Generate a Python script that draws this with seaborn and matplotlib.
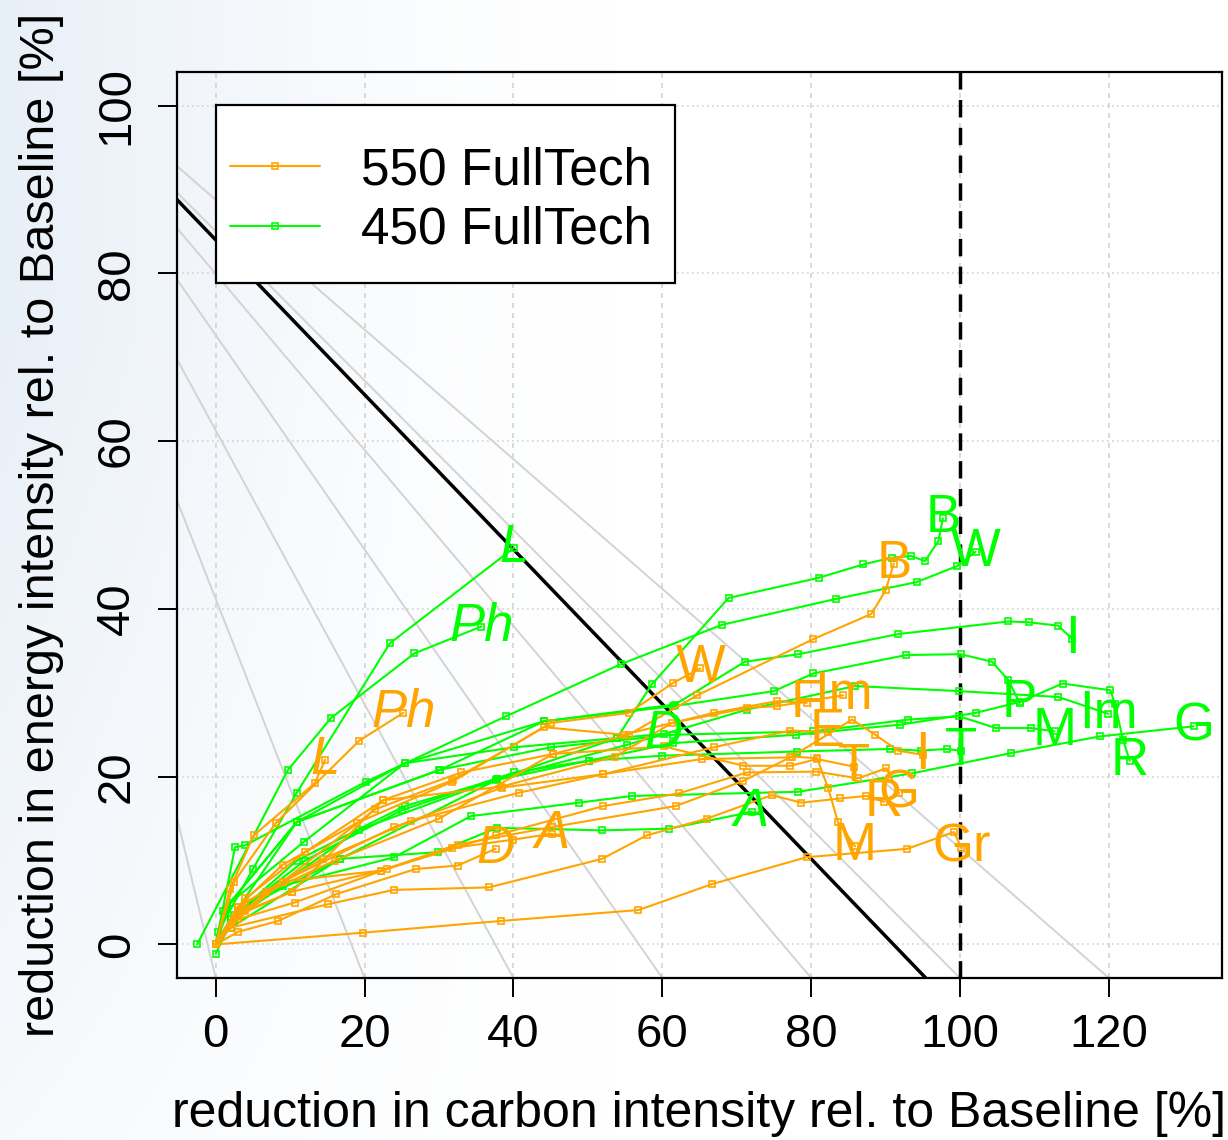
import numpy as np
import matplotlib
matplotlib.use("Agg")
import matplotlib.pyplot as plt
import seaborn as sns
from matplotlib.lines import Line2D
from matplotlib.patches import Rectangle

sns.set_theme(style="white")
plt.rcParams['font.family'] = ['Liberation Sans', 'DejaVu Sans']
plt.rcParams['text.color'] = 'black'

ORANGE = "#FFA500"
GREEN = "#00FF00"

# ---------------- data: 450 FullTech (green) ----------------
g_L_x = [0, 0.3, 5.0, 10.9, 23.4, 40.1]
g_L_y = [0, 1.5, 9.0, 18.1, 35.9, 47.3]
g_Ph_x = [-2.5, 9.7, 15.5, 26.7, 35.7]
g_Ph_y = [0, 20.8, 27.0, 34.7, 37.9]
g_B_x = [0, 1.0, 10.9, 25.4, 40.1, 53.9, 58.6, 68.9, 81.0, 87.0, 90.8, 93.4, 95.3, 97.1, 97.7]
g_B_y = [0, 4.0, 14.6, 21.6, 23.5, 24.6, 31.0, 41.3, 43.7, 45.3, 46.1, 46.3, 45.7, 48.1, 50.8]
g_W_x = [0, 2.6, 3.9, 20.2, 39.0, 54.4, 68.0, 83.4, 94.2, 99.6, 102.1]
g_W_y = [0, 11.6, 11.8, 19.4, 27.2, 33.4, 38.1, 41.2, 43.2, 45.1, 46.8]
g_I_x = [0, 2.0, 11.8, 25.4, 44.1, 61.7, 71.1, 78.3, 91.7, 106.5, 109.3, 113.2, 115.1]
g_I_y = [0, 5.0, 12.2, 21.6, 26.6, 28.6, 33.7, 34.6, 37.0, 38.5, 38.4, 38.0, 36.4]
g_P_x = [0, 1.5, 10.9, 30.1, 44.1, 61.5, 75.0, 80.3, 92.8, 100.1, 104.3, 106.5, 108.0]
g_P_y = [0, 4.5, 14.6, 20.8, 26.6, 28.4, 30.2, 32.3, 34.5, 34.6, 33.7, 31.5, 28.8]
g_Im_x = [0, 2.0, 19.3, 37.8, 55.3, 71.4, 85.9, 99.9, 113.2, 119.9]
g_Im_y = [0, 3.0, 13.7, 19.7, 23.8, 28.0, 30.8, 30.2, 29.5, 27.5]
g_M_x = [0, 2.0, 10.9, 30.0, 45.0, 61.5, 80.3, 93.0, 99.9, 104.8, 109.5, 112.7]
g_M_y = [0, 3.0, 14.6, 20.8, 23.5, 25.0, 25.4, 26.8, 27.2, 25.8, 25.8, 25.4]
g_R_x = [0, 3.0, 16.7, 37.7, 50.1, 61.5, 78.0, 92.0, 102.1, 108.0, 113.8, 120.2, 120.8, 121.9, 122.8]
g_R_y = [0, 4.0, 10.2, 19.6, 21.9, 24.0, 25.0, 26.2, 27.6, 28.9, 31.1, 30.3, 28.7, 24.4, 21.9]
g_G_x = [0, 2.5, 9.0, 24.0, 34.3, 48.8, 55.9, 78.3, 93.6, 106.8, 118.8, 131.4]
g_G_y = [0, 3.0, 7.0, 10.4, 15.3, 16.9, 17.7, 18.2, 20.4, 22.8, 24.8, 26.0]
g_T_x = [0, 2.5, 12.0, 25.0, 40.1, 50.1, 60.0, 78.1, 90.6, 94.7, 98.2, 100.1]
g_T_y = [-1.1, 3.5, 10.0, 16.0, 20.5, 21.9, 22.5, 23.0, 23.3, 23.1, 23.3, 23.1]
g_D_x = [0, 2.0, 10.9, 25.4, 37.8, 53.9, 60.2]
g_D_y = [0, 3.0, 10.0, 16.5, 19.7, 24.6, 25.1]
g_A_x = [0, 2.0, 16.7, 29.8, 37.8, 51.9, 60.9, 72.0]
g_A_y = [0, 2.0, 10.2, 11.0, 13.9, 13.6, 13.8, 15.8]

# ---------------- data: 550 FullTech (orange) ----------------
o_L_x = [0, 1.9, 5.1, 13.3, 14.7]
o_L_y = [0, 6.6, 13.0, 19.2, 22.0]
o_Ph_x = [0, 2.5, 8.1, 19.3, 25.2]
o_Ph_y = [0, 7.5, 14.5, 24.3, 27.6]
o_W_x = [0, 3.0, 9.0, 19.0, 31.8, 45.0, 55.5, 61.5, 65.1]
o_W_y = [0, 4.5, 9.5, 14.5, 19.4, 26.4, 27.6, 31.2, 32.9]
o_B_x = [0, 4.0, 12.0, 22.5, 33.0, 45.3, 55.5, 64.7, 80.3, 88.1, 90.0, 91.1]
o_B_y = [0, 5.5, 11.0, 17.2, 20.5, 22.7, 25.0, 29.7, 36.4, 39.4, 42.2, 45.4]
o_F_x = [0, 3.0, 9.0, 21.4, 31.9, 44.1, 54.8, 66.9, 75.4, 79.4]
o_F_y = [0, 4.5, 7.5, 16.1, 19.6, 25.9, 25.0, 27.6, 29.0, 28.8]
o_Im_x = [0, 4.0, 10.3, 22.5, 38.3, 53.7, 61.3, 71.4, 75.4, 84.3]
o_Im_y = [0, 4.0, 6.3, 17.2, 18.8, 22.4, 26.4, 28.2, 28.4, 29.7]
o_E_x = [0, 3.0, 9.0, 24.0, 38.5, 52.1, 66.9, 77.2, 82.2]
o_E_y = [0, 3.5, 7.5, 14.0, 18.7, 20.3, 23.5, 25.5, 25.3]
o_T_x = [0, 2.5, 6.8, 16.0, 30.0, 45.3, 60.2, 70.9, 77.2, 80.8, 85.7]
o_T_y = [0, 3.0, 6.2, 10.0, 15.0, 22.7, 23.6, 21.3, 21.3, 22.1, 21.2]
o_I_x = [0, 4.0, 14.4, 26.2, 40.8, 52.1, 65.3, 77.2, 85.5, 88.6, 91.7, 95.0]
o_I_y = [0, 5.0, 10.2, 14.7, 18.1, 20.3, 22.1, 22.3, 26.8, 25.0, 23.1, 22.6]
o_G_x = [0, 3.0, 10.6, 23.0, 37.6, 52.1, 62.2, 71.4, 80.7, 86.3, 90.1, 91.8]
o_G_y = [0, 3.0, 5.0, 9.0, 13.0, 16.5, 18.0, 20.5, 20.6, 19.8, 21.0, 18.0]
o_R_x = [0, 2.0, 15.1, 23.9, 36.7, 51.9, 57.9, 66.0, 74.7, 78.7, 83.9, 87.4, 89.8]
o_R_y = [0, 2.0, 4.8, 6.5, 6.8, 10.2, 13.0, 15.0, 17.8, 16.9, 17.4, 17.7, 17.0]
o_M_x = [0, 3.0, 9.0, 22.2, 32.5, 45.2, 61.8, 70.9, 77.4, 80.8, 82.3, 83.6, 85.9]
o_M_y = [0, 3.0, 7.5, 8.8, 11.9, 14.0, 16.5, 19.5, 22.4, 22.2, 18.6, 14.6, 11.7]
o_Gr_x = [0, 19.8, 38.3, 56.8, 66.7, 79.4, 92.9, 99.2, 100.2]
o_Gr_y = [0, 1.4, 2.8, 4.1, 7.2, 10.4, 11.4, 13.4, 11.5]
o_D_x = [0, 3.0, 8.4, 16.2, 26.9, 32.5, 37.6]
o_D_y = [0, 1.5, 2.8, 6.0, 9.0, 9.4, 11.4]
o_A_x = [0, 3.0, 10.3, 22.2, 31.8, 40.0, 45.2]
o_A_y = [0, 3.5, 6.3, 8.8, 11.5, 12.5, 13.2]

green_series = [("L", g_L_x, g_L_y), ("Ph", g_Ph_x, g_Ph_y), ("B", g_B_x, g_B_y),
                ("W", g_W_x, g_W_y), ("I", g_I_x, g_I_y), ("P", g_P_x, g_P_y),
                ("Im", g_Im_x, g_Im_y), ("M", g_M_x, g_M_y), ("R", g_R_x, g_R_y),
                ("G", g_G_x, g_G_y), ("T", g_T_x, g_T_y), ("D", g_D_x, g_D_y),
                ("A", g_A_x, g_A_y)]
orange_series = [("L", o_L_x, o_L_y), ("Ph", o_Ph_x, o_Ph_y), ("W", o_W_x, o_W_y),
                 ("B", o_B_x, o_B_y), ("F", o_F_x, o_F_y), ("Im", o_Im_x, o_Im_y),
                 ("E", o_E_x, o_E_y), ("T", o_T_x, o_T_y), ("I", o_I_x, o_I_y),
                 ("G", o_G_x, o_G_y), ("R", o_R_x, o_R_y), ("M", o_M_x, o_M_y),
                 ("Gr", o_Gr_x, o_Gr_y), ("D", o_D_x, o_D_y), ("A", o_A_x, o_A_y)]
italic_models = ["L", "Ph", "D", "A"]
legend_labels = ["550 FullTech", "450 FullTech"]

# reference lines: fan of iso-lines through a common point
fan_origin_x = -32.0
fan_origin_y = 113.5
fan_end_x = [0, 20, 40, 60, 80, 100, 120]
fan_end_y = -4.0
target_end_x = 95.4
x_ticks = [0, 20, 40, 60, 80, 100, 120]
y_ticks = [0, 20, 40, 60, 80, 100]

# ---------------- figure ----------------
W, H = 1228, 1140
fig = plt.figure(figsize=(W / 100, H / 100), dpi=100)

# faint background watermark (light blue gradient on the left)
bg = fig.add_axes([0, 0, 1, 1], zorder=-10)
xx = np.linspace(0, 1, 400)[None, :]
yy = np.linspace(0, 1, 400)[:, None]
wgt = np.clip(1 - xx / 0.5, 0, 1) ** 1.5 * np.clip(1.25 - yy * 0.9, 0, 1)
wgt = np.clip(wgt, 0, 1) * 0.8
blue = np.array([226, 235, 245]) / 255.0
img = (1 - wgt[..., None]) * 1.0 + wgt[..., None] * blue[None, None, :]
bg.imshow(img, aspect="auto", extent=[0, 1, 0, 1], origin="upper")
bg.axis("off")

ax = fig.add_axes([177 / W, 1 - 978 / H, (1222 - 177) / W, (978 - 72) / H])
ax.patch.set_alpha(0)
ax.set_xlim(-5.2, 135.2)
ax.set_ylim(-4, 104)

# grid
for xv in x_ticks:
    ax.axvline(xv, color="#D3D3D3", lw=1.2, ls=(0, (3, 3)), zorder=0.5)
for yv in y_ticks:
    ax.axhline(yv, color="#D3D3D3", lw=1.2, ls=(0, (1, 2)), zorder=0.5)

# gray fan
for xe in fan_end_x:
    ax.plot([fan_origin_x, xe], [fan_origin_y, fan_end_y], color="#D3D3D3", lw=1.4, zorder=1)
ax.plot([fan_origin_x, target_end_x], [fan_origin_y, fan_end_y], color="black", lw=2.5, zorder=2)
ax.axvline(100, color="black", lw=2.5, ls=(0, (5, 3)), zorder=2)

def draw(series, color):
    for name, xs, ys in series:
        sns.lineplot(x=xs, y=ys, ax=ax, sort=False, estimator=None, color=color,
                     lw=1.5, marker="s", markersize=4.6, markerfacecolor="none",
                     markeredgecolor=color, markeredgewidth=1.2, legend=False, zorder=3)
        ax.text(xs[-1], ys[-1], name, color=color, fontsize=38, ha="center", va="center",
                style="italic" if name in italic_models else "normal", zorder=4)

draw(green_series, GREEN)
draw(orange_series, ORANGE)

ax.set_xticks(x_ticks)
ax.set_yticks(y_ticks)
ax.set_xticklabels([str(v) for v in x_ticks])
ax.set_yticklabels([str(v) for v in y_ticks], rotation=90, va="center")
ax.tick_params(axis="both", direction="out", length=13.5, width=1.4, labelsize=34,
               colors="black", bottom=True, left=True, top=False, right=False)
ax.tick_params(axis="x", pad=12)
ax.tick_params(axis="y", pad=14)
for sp in ax.spines.values():
    sp.set_color("black")
    sp.set_linewidth(1.6)
    sp.set_visible(True)

ax.set_xlabel("reduction in carbon intensity rel. to Baseline [%]", fontsize=36, labelpad=24, color="black")
ax.set_ylabel("reduction in energy intensity rel. to Baseline [%]", fontsize=35, labelpad=22, color="black")

# legend: white box with black border, entries inside
box = Rectangle((39 / 1045, 1 - 211 / 906), 459 / 1045, 178 / 906, transform=ax.transAxes,
                facecolor="white", edgecolor="black", lw=1.6, zorder=9)
ax.add_patch(box)
handles = [Line2D([0], [0], color=ORANGE, lw=1.5, marker="s", ms=4.6, mfc="none", mec=ORANGE, mew=1.2),
           Line2D([0], [0], color=GREEN, lw=1.5, marker="s", ms=4.6, mfc="none", mec=GREEN, mew=1.2)]
leg = ax.legend(handles, legend_labels, loc="center left",
                bbox_to_anchor=(53 / 1045, 1 - 128.5 / 906), fontsize=37, frameon=False,
                borderpad=0, labelspacing=0.2, handlelength=1.75, handletextpad=0.8,
                borderaxespad=0, labelcolor="black")
leg.set_zorder(10)

fig.savefig("out.png", dpi=100)
